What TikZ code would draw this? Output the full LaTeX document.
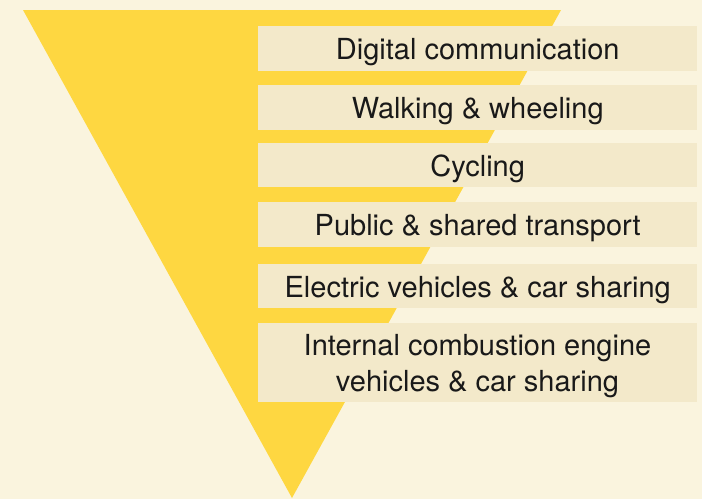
\documentclass[tikz,border=0pt]{standalone}
\usepackage{fontspec}
\setmainfont{TeX Gyre Heros}
\definecolor{bgcol}{RGB}{250,244,222}
\definecolor{tricol}{RGB}{254,215,65}
\definecolor{boxcol}{RGB}{243,233,202}
\definecolor{txtcol}{RGB}{25,25,25}
\begin{document}
\begin{tikzpicture}[x=1pt,y=-1pt,
  boxnode/.style={fill=boxcol, draw=none, inner sep=0pt, minimum width=439pt, anchor=north west,
    text=txtcol, align=center, font=\fontsize{29}{36}\selectfont, text height=24pt, text depth=1.5pt},
  txtnode/.style={inner sep=0pt, text=txtcol, align=center, font=\fontsize{29}{36}\selectfont}]
\fill[bgcol] (0,0) rectangle (702,499);
\useasboundingbox (0,0) rectangle (702,499);
\coordinate (tl) at (23,10);
\coordinate (tr) at (561,10);
\coordinate (apex) at (292,498);
\fill[tricol] (tl) -- (tr) -- (apex) -- cycle;
\node[boxnode, minimum height=45pt] (b1) at (258,26) {Digital communication};
\node[boxnode, minimum height=45pt] (b2) at (258,85) {Walking \& wheeling};
\node[boxnode, minimum height=44pt] (b3) at (258,143) {Cycling};
\node[boxnode, minimum height=45pt] (b4) at (258,202) {Public \& shared transport};
\node[boxnode, minimum height=44pt] (b5) at (258,264) {Electric vehicles \& car sharing};
\node[boxnode, minimum height=79pt] (b6) at (258,323) {};
\node[txtnode] (t6) at (477.5,366) {Internal combustion engine\\vehicles \& car sharing};
\end{tikzpicture}
\end{document}
